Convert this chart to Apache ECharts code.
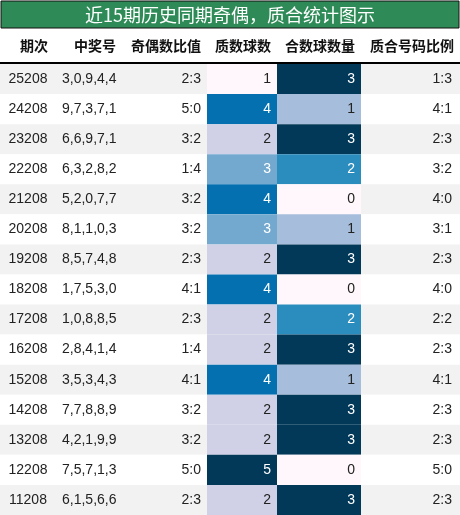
<!DOCTYPE html><html><head><meta charset="utf-8"><script src="https://cdn.jsdelivr.net/npm/echarts@6/dist/echarts.min.js"></script>
<style>html,body{margin:0;padding:0;background:#fff}#c{width:460px;height:515px}</style></head><body><div id="c"></div><script>
const periods=['25208','24208','23208','22208','21208','20208','19208','18208','17208','16208','15208','14208','13208','12208','11208'];
const numbers=['3,0,9,4,4','9,7,3,7,1','6,6,9,7,1','6,3,2,8,2','5,2,0,7,7','8,1,1,0,3','8,5,7,4,8','1,7,5,3,0','1,0,8,8,5','2,8,4,1,4','3,5,3,4,3','7,7,8,8,9','4,2,1,9,9','7,5,7,1,3','6,1,5,6,6'];
const oddEven=['2:3','5:0','3:2','1:4','3:2','3:2','2:3','4:1','2:3','1:4','4:1','3:2','3:2','5:0','2:3'];
const primeCnt=[1,4,2,3,4,3,2,4,2,2,4,2,2,5,2];
const compCnt=[3,1,3,2,0,1,3,0,2,3,1,3,3,0,3];
const ratio=['1:3','4:1','2:3','3:2','4:0','3:1','2:3','4:0','2:2','2:3','4:1','2:3','2:3','5:0','2:3'];
const headers=['期次','中奖号','奇偶数比值','质数球数','合数球数量','质合号码比例'];
const edges=[0,60,120,207,277,361,460];
const primeColors={1:'#fff7fb',2:'#d0d1e6',3:'#74a9cf',4:'#0570b0',5:'#023858'};
const compColors={0:'#fff7fb',1:'#a6bddb',2:'#2b8cbe',3:'#023858'};
const font='"Noto Sans CJK SC","Liberation Sans",sans-serif';
const data=[];
periods.forEach((p,i)=>{for(let c=0;c<6;c++)data.push([c,i]);});
const chart=echarts.init(document.getElementById('c'));
function cellText(c,i){return [periods[i],numbers[i],oddEven[i],String(primeCnt[i]),String(compCnt[i]),ratio[i]][c];}
chart.setOption({
 animation:false,
 grid:{left:0,right:0,top:64,bottom:0},
 xAxis:{type:'value',min:0,max:460,show:false},
 yAxis:{type:'category',data:periods,inverse:true,show:false},
 graphic:[
  {type:'rect',shape:{x:1,y:1,width:458,height:27},style:{fill:'#2e8b57',stroke:'#111',lineWidth:1}},
  {type:'text',x:230,y:15,style:{text:'近15期历史同期奇偶，质合统计图示',fill:'#fff',font:'18px '+font,align:'center',verticalAlign:'middle'}},
  ...headers.map((h,k)=>({type:'text',x:k===0?34:(k===1?116:edges[k+1]-6),y:46,style:{text:h,fill:'#111',font:'bold 14px '+font,align:k===0?'center':'right',verticalAlign:'middle'}})),
  {type:'line',shape:{x1:0,y1:63,x2:460,y2:63},style:{stroke:'#000',lineWidth:2}}
 ],
 series:[{type:'custom',data:data,renderItem:function(params,api){
  const c=api.value(0),i=api.value(1);
  const top=api.coord([0,i])[1]-api.size([0,1])[1]/2;
  const h=api.size([0,1])[1];
  const x0=api.coord([edges[c],i])[0],x1=api.coord([edges[c+1],i])[0];
  let fill=i%2===0?'#f2f2f2':'#ffffff';
  let tc='#222';
  if(c===3){fill=primeColors[primeCnt[i]];if(primeCnt[i]>=3)tc='#fff';}
  if(c===4){fill=compColors[compCnt[i]];if(compCnt[i]>=2)tc='#fff';}
  let tx,al;
  if(c===0){tx=x0+(x1-x0)/2-2;al='center';}
  else if(c===1){tx=x0+2;al='left';}
  else{tx=x1-(c===5?8:6);al='right';}
  return {type:'group',children:[
   {type:'rect',shape:{x:x0,y:top,width:x1-x0,height:h},style:{fill:fill}},
   {type:'text',x:tx,y:top+h/2,style:{text:cellText(c,i),fill:tc,font:'14px "Liberation Sans",sans-serif',align:al,verticalAlign:'middle'}}
  ]};
 }}]
});
</script></body></html>
